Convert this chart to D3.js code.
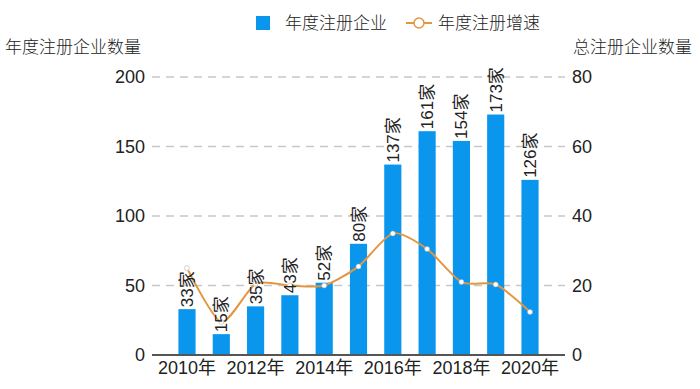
<!DOCTYPE html>
<html>
<head>
<meta charset="utf-8">
<script src="https://cdn.jsdelivr.net/npm/d3@7"></script>
<style>
  body { margin: 0; background: #fff; }
  text { font-family: "Liberation Sans", Arial, "Noto Sans CJK SC", sans-serif; fill: #222; }
  .cjk { font-family: "Noto Sans CJK SC", sans-serif; font-weight: 300; }
</style>
</head>
<body>
<script>
// data
var years = ["2010", "2011", "2012", "2013", "2014", "2015", "2016", "2017", "2018", "2019", "2020"];
var counts = [33, 15, 35, 43, 52, 80, 137, 161, 154, 173, 126];
var growth = [25, 9.5, 20.5, 20, 20, 25.5, 35, 30.5, 21, 20.3, 12.4];
var leftTicks = [0, 50, 100, 150, 200];
var rightTicks = [0, 20, 40, 60, 80];
var xTickYears = ["2010", "2012", "2014", "2016", "2018", "2020"];

var W = 700, H = 389;
var margin = {top: 77, right: 135, bottom: 34, left: 152},
	width = W - margin.left - margin.right,
	height = H - margin.top - margin.bottom;

var barColor = "#0b96ee", lineColor = "#e3963f";

var svg = d3.select("body").append("svg")
	.attr("width", W)
	.attr("height", H);

var main = svg.append("g")
	.attr("transform", "translate(" + margin.left + "," + margin.top + ")");

var x = d3.scaleBand()
	.domain(years)
	.range([0, width])
	.paddingInner(0.5)
	.paddingOuter(0.77);

var yL = d3.scaleLinear().domain([0, 200]).range([height, 0]);
var yR = d3.scaleLinear().domain([0, 80]).range([height, 0]);

// dashed grid
main.append("g")
	.selectAll("line")
	.data(leftTicks.filter(function(d) { return d > 0; }))
	.enter().append("line")
		.attr("x1", 0).attr("x2", width)
		.attr("y1", function(d) { return yL(d); })
		.attr("y2", function(d) { return yL(d); })
		.style("stroke", "#c8c8c8")
		.style("stroke-width", 1.5)
		.style("stroke-dasharray", "8,6");

// left axis
var leftAxis = main.append("g")
	.call(d3.axisLeft(yL).tickValues(leftTicks).tickSize(0).tickPadding(7));
leftAxis.select(".domain").remove();
leftAxis.selectAll("text").style("font-size", "18px").attr("fill", "#222");

// right axis
var rightAxis = main.append("g")
	.attr("transform", "translate(" + width + ",0)")
	.call(d3.axisRight(yR).tickValues(rightTicks).tickSize(0).tickPadding(7));
rightAxis.select(".domain").remove();
rightAxis.selectAll("text").style("font-size", "18px").attr("fill", "#222");

// bars
main.selectAll("rect.bar")
	.data(counts)
	.enter().append("rect")
		.attr("class", "bar")
		.attr("x", function(d, i) { return x(years[i]); })
		.attr("y", function(d) { return yL(d); })
		.attr("width", x.bandwidth())
		.attr("height", function(d) { return height - yL(d); })
		.style("fill", barColor);

// bottom axis
var bottomAxis = main.append("g")
	.attr("transform", "translate(0," + height + ")")
	.call(d3.axisBottom(x).tickValues(xTickYears).tickSize(0).tickPadding(6)
		.tickFormat(function(d) { return d + "年"; }));
bottomAxis.select(".domain")
	.attr("d", "M0,0H" + width)
	.style("stroke", "#555")
	.style("stroke-width", 2);
bottomAxis.selectAll("text").style("font-size", "18px").attr("fill", "#222");

// growth line
var line = d3.line()
	.x(function(d, i) { return x(years[i]) + x.bandwidth() / 2; })
	.y(function(d) { return yR(d); })
	.curve(d3.curveCardinal.tension(0.3));

main.append("path")
	.datum(growth)
	.attr("d", line)
	.style("fill", "none")
	.style("stroke", lineColor)
	.style("stroke-width", 2);

main.selectAll("circle.pt")
	.data(growth)
	.enter().append("circle")
		.attr("class", "pt")
		.attr("cx", function(d, i) { return x(years[i]) + x.bandwidth() / 2; })
		.attr("cy", function(d) { return yR(d); })
		.attr("r", 2.5)
		.style("fill", "#fff")
		.style("stroke", "#aaa")
		.style("stroke-width", 0.5);

// bar labels (rotated)
main.selectAll("text.lbl")
	.data(counts)
	.enter().append("text")
		.attr("class", "lbl")
		.attr("transform", function(d, i) {
			return "translate(" + (x(years[i]) + x.bandwidth() / 2 + 6) + "," + (yL(d) - 2) + ")rotate(-90)";
		})
		.style("font-size", "17px")
		.text(function(d) { return d + "家"; });

// axis titles
svg.append("text")
	.attr("class", "cjk")
	.attr("x", 5).attr("y", 53)
	.style("font-size", "17px")
	.text("年度注册企业数量");

svg.append("text")
	.attr("class", "cjk")
	.attr("x", 692).attr("y", 53)
	.attr("text-anchor", "end")
	.style("font-size", "17px")
	.text("总注册企业数量");

// legend
var legend = svg.append("g");
legend.append("rect")
	.attr("x", 256).attr("y", 16)
	.attr("width", 14).attr("height", 14)
	.style("fill", barColor);
legend.append("text")
	.attr("class", "cjk")
	.attr("x", 285).attr("y", 29)
	.style("font-size", "17px")
	.text("年度注册企业");
legend.append("line")
	.attr("x1", 406).attr("x2", 432)
	.attr("y1", 23).attr("y2", 23)
	.style("stroke", lineColor)
	.style("stroke-width", 2);
legend.append("circle")
	.attr("cx", 419).attr("cy", 23).attr("r", 5)
	.style("fill", "#fff")
	.style("stroke", lineColor)
	.style("stroke-width", 1.5);
legend.append("text")
	.attr("class", "cjk")
	.attr("x", 438).attr("y", 29)
	.style("font-size", "17px")
	.text("年度注册增速");
</script>
</body>
</html>
